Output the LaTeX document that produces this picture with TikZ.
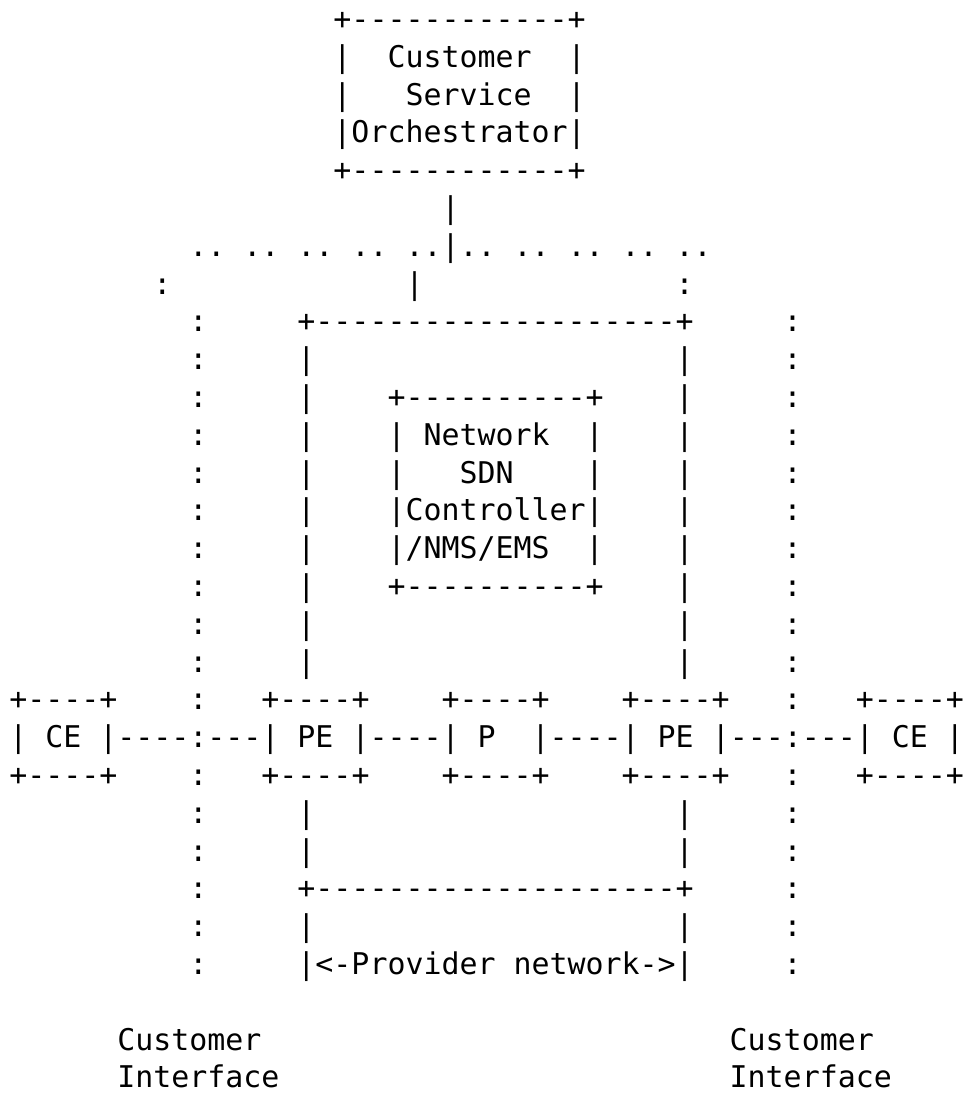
\documentclass[tikz,border=0pt]{standalone}
\usepackage{fontspec}
\setmonofont{DejaVu Sans Mono}
\tikzset{ascii/.style={font=\ttfamily\fontsize{29.92pt}{37.8pt}\selectfont, inner sep=0pt, outer sep=0pt, anchor=base west}}
% #1 name, #2 column, #3 row, #4 text
\newcommand{\seg}[4]{\node[ascii] (#1) at ({9.3+18.01*#2},{-(29.5+37.8*#3)}) {#4};}
\newcommand{\sidesrow}[2]{%
  \seg{#1a}{10}{#2}{:}\seg{#1b}{16}{#2}{|}\seg{#1c}{37}{#2}{|}\seg{#1d}{43}{#2}{:}}
\begin{document}
\begin{tikzpicture}[x=1pt,y=1pt]
\useasboundingbox (0,0) rectangle (965,-1093);
% Customer Service Orchestrator
\seg{r0}{18}{0}{+------------+}
\seg{r1}{18}{1}{|~~Customer~~|}
\seg{r2}{18}{2}{|~~~Service~~|}
\seg{r3}{18}{3}{|Orchestrator|}
\seg{r4}{18}{4}{+------------+}
\seg{r5}{24}{5}{|}
\seg{r6}{10}{6}{..~..~..~..~..|..~..~..~..~..}
\seg{r7a}{8}{7}{:}
\seg{r7b}{22}{7}{|}
\seg{r7c}{37}{7}{:}
% provider network frame
\seg{r8a}{10}{8}{:}
\seg{r8b}{16}{8}{+--------------------+}
\seg{r8c}{43}{8}{:}
\sidesrow{r9}{9}
\sidesrow{r10}{10}
\seg{r10e}{21}{10}{+----------+}
\sidesrow{r11}{11}
\seg{r11e}{21}{11}{|~Network~~|}
\sidesrow{r12}{12}
\seg{r12e}{21}{12}{|~~~SDN~~~~|}
\sidesrow{r13}{13}
\seg{r13e}{21}{13}{|Controller|}
\sidesrow{r14}{14}
\seg{r14e}{21}{14}{|/NMS/EMS~~|}
\sidesrow{r15}{15}
\seg{r15e}{21}{15}{+----------+}
\sidesrow{r16}{16}
\sidesrow{r17}{17}
% CE / PE / P row
\seg{r18a}{0}{18}{+----+}
\seg{r18b}{10}{18}{:}
\seg{r18c}{14}{18}{+----+}
\seg{r18d}{24}{18}{+----+}
\seg{r18e}{34}{18}{+----+}
\seg{r18f}{43}{18}{:}
\seg{r18g}{47}{18}{+----+}
\seg{r19}{0}{19}{|~CE~|----:---|~PE~|----|~P~~|----|~PE~|---:---|~CE~|}
\seg{r20a}{0}{20}{+----+}
\seg{r20b}{10}{20}{:}
\seg{r20c}{14}{20}{+----+}
\seg{r20d}{24}{20}{+----+}
\seg{r20e}{34}{20}{+----+}
\seg{r20f}{43}{20}{:}
\seg{r20g}{47}{20}{+----+}
\sidesrow{r21}{21}
\sidesrow{r22}{22}
\seg{r23a}{10}{23}{:}
\seg{r23b}{16}{23}{+--------------------+}
\seg{r23c}{43}{23}{:}
\sidesrow{r24}{24}
\seg{r25a}{10}{25}{:}
\seg{r25b}{16}{25}{|<-Provider~network->|}
\seg{r25c}{43}{25}{:}
% customer interfaces
\seg{r27a}{6}{27}{Customer}
\seg{r27b}{40}{27}{Customer}
\seg{r28a}{6}{28}{Interface}
\seg{r28b}{40}{28}{Interface}
\end{tikzpicture}
\end{document}
